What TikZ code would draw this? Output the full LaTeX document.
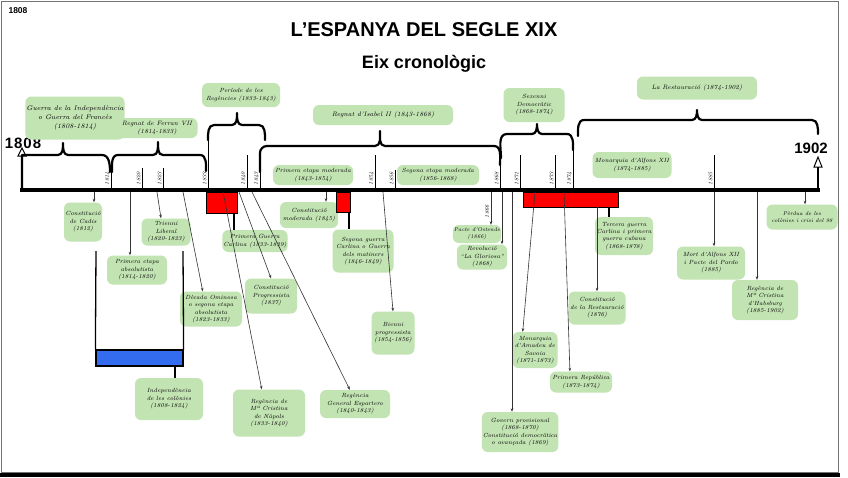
\documentclass[tikz,border=0pt]{standalone}
\usepackage{fontspec}
\newfontfamily\titlefont{Liberation Sans}
\usetikzlibrary{arrows.meta}
\definecolor{blobgreen}{RGB}{194,227,178}
\definecolor{boxred}{RGB}{255,0,0}
\definecolor{boxblue}{RGB}{52,108,240}
\tikzset{
 blob/.style={fill=blobgreen, rounded corners=6pt, inner sep=1pt, align=center,
   font=\fontsize{6}{7.4}\selectfont\itshape, text=black},
 brace/.style={line width=2.2pt, black, line cap=round, line join=round},
 tickline/.style={line width=0.7pt, black},
 ticklab/.style={rotate=90, anchor=west, font=\fontsize{5.5}{6}\selectfont\itshape, inner sep=0.5pt},
 arr/.style={line width=0.6pt, black!80, -{Stealth[length=3.5pt,width=2.6pt]}},
 link/.style={line width=1.3pt, black},
 redbox/.style={fill=boxred, draw=black, line width=0.8pt, inner sep=0pt},
 yearlab/.style={font=\titlefont\bfseries\fontsize{15}{18}\selectfont, inner sep=0pt},
}
\begin{document}
\begin{tikzpicture}[x=1pt,y=-1pt]
\useasboundingbox (0,0) rectangle (848,477);
\fill[white] (0,0) rectangle (848,477);
\draw[black!55, line width=1pt] (1.5,1.5) rectangle (838,472);
\fill[black] (0,473) rectangle (840,477);

% titles
\node[font=\titlefont\bfseries\fontsize{20}{24}\selectfont] (title) at (424,30) {L’ESPANYA DEL SEGLE XIX};
\node[font=\titlefont\bfseries\fontsize{18}{22}\selectfont] (subtitle) at (424,64) {Eix cronològic};
\node[font=\titlefont\bfseries\fontsize{8.5}{10}\selectfont, inner sep=0pt] (corner) at (18,11) {1808};

% start / end years
\node[yearlab] (y1808) at (23,143) {1\kern1pt8\kern1pt0\kern1pt8};
\node[yearlab] (y1902) at (811,148) {1902};
\draw[line width=1pt, fill=white] (18,156) -- (22,148) -- (26,156) -- cycle;
\draw[line width=1pt, fill=white] (814,167) -- (818,157) -- (822,167) -- cycle;
\draw[line width=2pt] (818,167) -- (818,190);

% main axis
\draw[line width=4pt] (20,190) -- (820,190);

% braces
\draw[brace] (22,190) -- (22,155) -- (58,155) to[out=0,in=-90] (63,143) to[out=-90,in=180] (68,155) -- (102,155) to[out=0,in=90] (110,172);
\draw[brace] (112,172) to[out=90,in=180] (118,155) -- (153,155) to[out=0,in=-90] (158,142) to[out=-90,in=180] (163,155) -- (200,155) to[out=0,in=90] (206,171);
\draw[brace] (208,140) to[out=90,in=180] (214,125) -- (232,125) to[out=0,in=-90] (237,113) to[out=-90,in=180] (242,125) -- (259,125) to[out=0,in=90] (265,140);
\draw[brace] (260,172) -- (260,153) to[out=90,in=180] (267,146) -- (375,146) to[out=0,in=-90] (380,131) to[out=-90,in=180] (385,146) -- (494,146) to[out=0,in=90] (500,165);
\draw[brace] (501,158) to[out=90,in=180] (507,134) -- (532,134) to[out=0,in=-90] (537,124) to[out=-90,in=180] (542,134) -- (567,134) to[out=0,in=90] (573,150);
\draw[brace] (578,136) to[out=90,in=180] (584,120) -- (692,120) to[out=0,in=-90] (697,110) to[out=-90,in=180] (702,120) -- (812,120) to[out=0,in=90] (818,134);

% ticks
\foreach \x/\ytop/\lab in {111/172/1814, 142/168/1820, 163/168/1823, 208/140/1833, 247/155/1840, 260/172/1843, 375/155/1854, 395/170/1856, 500/162/1868, 520/155/1871, 555/155/1873, 573/150/1874, 714/155/1885}
  {\draw[tickline] (\x,\ytop) -- (\x,188); \node[ticklab] at (\x-3.5,186) {\lab};}
\node[ticklab] (l1866) at (487,219) {1866};

% top labels
\node[blob, minimum width=94pt, minimum height=43pt, font=\fontsize{6.8}{9}\selectfont\itshape] (guerra) at (75,118) {Guerra de la Independència\\o Guerra del Francès\\(1808-1814)};
\node[blob, minimum width=81pt, minimum height=20pt, font=\fontsize{6.3}{7.5}\selectfont\itshape] (ferran) at (157,128) {Regnat de Ferran VII\\(1814-1833)};
\node[blob, minimum width=78pt, minimum height=24pt] (regencies) at (241,95) {Període de les\\Regències (1833-1843)};
\node[blob, minimum width=140pt, minimum height=20pt, font=\fontsize{6.5}{7.5}\selectfont\itshape] (isabel) at (383,115) {Regnat d'Isabel II (1843-1868)};
\node[blob, minimum width=80pt, minimum height=20pt] (primmod) at (313,175) {Primera etapa moderada\\(1843-1854)};
\node[blob, minimum width=82pt, minimum height=20pt] (segmod) at (438,175) {Segona etapa moderada\\(1856-1868)};
\node[blob, minimum width=61pt, minimum height=34pt] (sexenni) at (534,105) {Sexenni\\Democràtic\\(1868-1874)};
\node[blob, minimum width=120pt, minimum height=23pt, font=\fontsize{6.3}{7.5}\selectfont\itshape] (restauracio) at (697,88) {La Restauració (1874-1902)};
\node[blob, minimum width=79pt, minimum height=26pt] (alfons) at (632,165) {Monarquia d'Alfons XII\\(1874-1885)};

% bottom labels
\node[blob, minimum width=38pt, minimum height=39pt] (cadis) at (83,222) {Constitució\\de Cadis\\(1812)};
\node[blob, minimum width=60pt, minimum height=29pt] (abs) at (137,270) {Primera etapa\\absolutista\\(1814-1820)};
\node[blob, minimum width=49pt, minimum height=27pt] (trienni) at (166,232) {Trienni\\Liberal\\(1820-1823)};
\node[blob, minimum width=62pt, minimum height=35pt] (decada) at (211,309) {Dècada Ominosa\\o segona etapa\\absolutista\\(1823-1833)};
\node[blob, minimum width=62pt, minimum height=22pt] (carlina1) at (255,241) {Primera Guerra\\Carlina (1833-1839)};
\node[blob, minimum width=52pt, minimum height=35pt] (progressista) at (271,296) {Constitució\\Progressista\\(1837)};
\node[blob, minimum width=72pt, minimum height=47pt] (napols) at (269,413) {Regència de\\Mª Cristina\\de Nàpols\\(1833-1840)};
\node[blob, minimum width=70pt, minimum height=28pt] (espartero) at (355,404) {Regència\\General Espartero\\(1840-1843)};
\node[blob, minimum width=58pt, minimum height=26pt] (constmod) at (309,215) {Constitució\\moderada (1845)};
\node[blob, minimum width=61pt, minimum height=43pt] (carlina2) at (363,251) {Segona guerra\\Carlina o Guerra\\dels matiners\\(1846-1849)};
\node[blob, minimum width=43pt, minimum height=43pt] (bienni) at (393,333) {Bienni\\progressista\\(1854-1856)};
\node[blob, minimum width=48pt, minimum height=18pt, font=\fontsize{5.5}{7}\selectfont\itshape] (ostende) at (477,234) {Pacte d'Ostende\\(1866)};
\node[blob, minimum width=50pt, minimum height=25pt] (gloriosa) at (482,257) {Revolució\\“La Gloriosa”\\(1868)};
\node[blob, minimum width=74pt, minimum height=40pt] (govern) at (520,432) {Govern provisional\\(1868-1870)\\Constitució democràtica\\o avançada (1869)};
\node[blob, minimum width=45pt, minimum height=36pt] (amadeu) at (535,350) {Monarquia\\d'Amadeu de\\Savoia\\(1871-1873)};
\node[blob, minimum width=62pt, minimum height=21pt] (republica) at (581,382) {Primera República\\(1873-1874)};
\node[blob, minimum width=58pt, minimum height=38pt] (carlina3) at (624,236) {Tercera guerra\\Carlina i primera\\guerra cubana\\(1868-1878)};
\node[blob, minimum width=57pt, minimum height=33pt] (constrest) at (597,308) {Constitució\\de la Restauració\\(1876)};
\node[blob, minimum width=68pt, minimum height=33pt] (mort) at (711,263) {Mort d'Alfons XII\\i Pacte del Pardo\\(1885)};
\node[blob, minimum width=66pt, minimum height=40pt] (habsburg) at (765,300) {Regència de\\Mª Cristina\\d'Habsburg\\(1885-1902)};
\node[blob, minimum width=71pt, minimum height=25pt, font=\fontsize{5.5}{7}\selectfont\itshape] (perdua) at (802,217) {Pèrdua de les\\colònies i crisi del 98};
\node[blob, minimum width=68pt, minimum height=42pt] (indep) at (169,399) {Independència\\de les colònies\\(1808-1824)};

% red period boxes
\node[redbox, minimum width=31pt, minimum height=21pt] (r1) at (221.5,202.5) {};
\node[redbox, minimum width=14pt, minimum height=20pt] (r2) at (343,202) {};
\node[redbox, minimum width=95pt, minimum height=15pt] (r3) at (570.5,199.5) {};

% links from red boxes
\coordinate (r1b) at (234,213);
\draw[link] (r1b) -- (r1b |- carlina1.north);
\coordinate (r2b) at (349,212);
\draw[link] (r2b) -- (r2b |- carlina2.north);
\coordinate (r3b) at (609,207);
\draw[link] (r3b) -- (r3b |- carlina3.north);

% colonies container
\node[fill=boxblue, draw=black, line width=1.2pt, minimum width=87pt, minimum height=16pt, inner sep=0pt] (cont) at (139.5,358) {};
\coordinate (contl) at (96,251);
\coordinate (contr) at (183,251);
\draw[link] (contl) -- (cont.north west);
\draw[link] (contr) -- (cont.north east);
\coordinate (contc) at (175,366);
\draw[link] (contc) -- (contc |- indep.north);

% arrows
\coordinate (s1812) at (94,192);
\draw[arr] (s1812) -- (s1812 |- cadis.north);
\coordinate (s1814) at (130,192);
\draw[arr] (s1814) -- (s1814 |- abs.north);
\coordinate (s1820) at (157,192);
\draw[arr] (s1820) -- (trienni.110);
\coordinate (s1823) at (183,192);
\draw[arr] (s1823) -- (decada.115);
\coordinate (s1833) at (223,192);
\draw[arr] (s1833) -- (napols.107);
\coordinate (s1837) at (239,192);
\draw[arr] (s1837) -- (progressista.north);
\coordinate (s1840) at (252,192);
\draw[arr] (s1840) -- (espartero.110);
\coordinate (s1845) at (326,192);
\draw[arr] (s1845) -- (s1845 |- constmod.north);
\coordinate (s1854) at (383,192);
\draw[arr] (s1854) -- (bienni.north);
\coordinate (s1866) at (491,192);
\draw[arr] (s1866) -- (s1866 |- ostende.north);
\coordinate (s1868a) at (502,192);
\draw[arr] (s1868a) -- (s1868a |- gloriosa.north);
\coordinate (s1868b) at (512,192);
\draw[arr] (s1868b) -- (s1868b |- govern.north);
\coordinate (s1871) at (535,192);
\draw[arr] (s1871) -- (amadeu.124);
\coordinate (s1873) at (564,192);
\draw[arr] (s1873) -- (republica.136);
\coordinate (s1876) at (597,207);
\draw[arr] (s1876) -- (s1876 |- constrest.north);
\coordinate (s1885a) at (714,192);
\draw[arr] (s1885a) -- (s1885a |- mort.north);
\coordinate (s1885b) at (757,192);
\draw[arr] (s1885b) -- (s1885b |- habsburg.north);
\coordinate (s1898) at (805,192);
\draw[arr] (s1898) -- (s1898 |- perdua.north);
\end{tikzpicture}
\end{document}
